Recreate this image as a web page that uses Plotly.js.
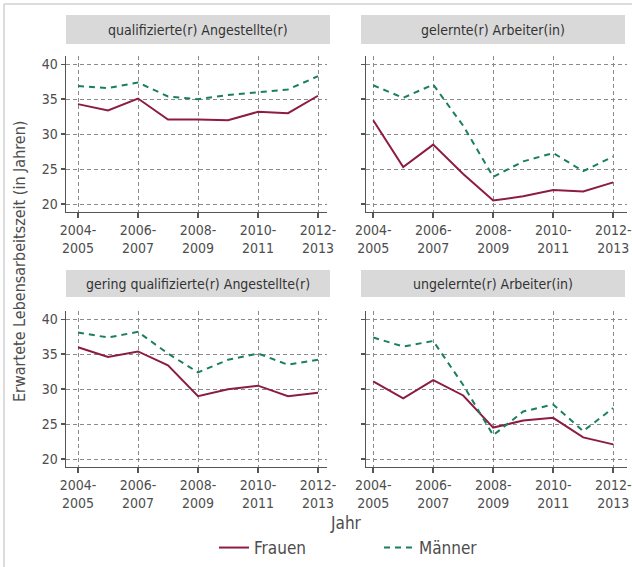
<!DOCTYPE html>
<html>
<head>
<meta charset="utf-8">
<script src="https://cdn.plot.ly/plotly-3.0.1.min.js"></script>
<style>html,body{margin:0;padding:0;background:#fff;}#chart{width:632px;height:567px;}</style>
</head>
<body>
<div id="chart"></div>
<script>
// ---- data ----
const years = ["2004-2005","2005-2006","2006-2007","2007-2008","2008-2009","2009-2010","2010-2011","2011-2012","2012-2013"];
const tickIdx = [0, 2, 4, 6, 8];
const tickLabels = ["2004-<br>2005","2006-<br>2007","2008-<br>2009","2010-<br>2011","2012-<br>2013"];
const yTicks = [20, 25, 30, 35, 40];
const panelTitles = ["qualifizierte(r) Angestellte(r)", "gelernte(r) Arbeiter(in)", "gering qualifizierte(r) Angestellte(r)", "ungelernte(r) Arbeiter(in)"];
const seriesNames = ["Frauen", "Männer"];

const qualAng_F = [34.3, 33.4, 35.1, 32.1, 32.1, 32.0, 33.2, 33.0, 35.5];
const qualAng_M = [36.9, 36.6, 37.4, 35.4, 35.0, 35.6, 36.0, 36.4, 38.3];
const gelArb_F  = [32.0, 25.3, 28.5, 24.3, 20.5, 21.1, 22.0, 21.8, 23.1];
const gelArb_M  = [37.0, 35.2, 37.1, 31.2, 23.9, 26.1, 27.3, 24.7, 26.8];
const gerAng_F  = [36.0, 34.6, 35.4, 33.4, 29.0, 30.0, 30.5, 29.0, 29.5];
const gerAng_M  = [38.1, 37.4, 38.2, 35.1, 32.4, 34.2, 35.1, 33.5, 34.2];
const ungArb_F  = [31.1, 28.7, 31.3, 29.1, 24.5, 25.5, 25.9, 23.1, 22.1];
const ungArb_M  = [37.4, 36.1, 36.9, 30.6, 23.4, 26.8, 27.8, 24.0, 27.3];

const panelData = [[qualAng_F, qualAng_M],[gelArb_F, gelArb_M],[gerAng_F, gerAng_M],[ungArb_F, ungArb_M]];

// ---- style ----
const W = 632, H = 567;
const FONT = "DejaVu Sans Condensed, Liberation Sans Narrow, Arial Narrow, sans-serif";
const colF = "#8c1d40", colM = "#1a7f60";
const txt = "#4d4d4d";
const px = v => v / W, py = v => 1 - v / H;

const colDom = [[px(66), px(327)], [px(366), px(627)]];
const colRange = [[-0.4, 8.3], [-0.24, 8.46]];
const rowDom = [[py(211.7), py(56)], [py(466.7), py(311)]];
const stripY = [[15, 44], [270, 297]];
const stripX = [[66, 330], [361, 625]];

const xs = years.map((_, i) => i);
const traces = [];
const layout = {
  width: W, height: H,
  margin: {l: 0, r: 0, t: 0, b: 0},
  paper_bgcolor: "#fff", plot_bgcolor: "#fff",
  font: {family: FONT, color: txt, size: 14},
  showlegend: true,
  legend: {orientation: "h", x: px(214), xanchor: "left", y: py(548), yanchor: "middle",
           font: {size: 17, color: txt}, entrywidth: 120, entrywidthmode: "pixels", bgcolor: "rgba(0,0,0,0)"},
  shapes: [], annotations: []
};

for (let p = 0; p < 4; p++) {
  const r = Math.floor(p / 2), c = p % 2;
  const n = p + 1;
  const xa = "x" + (n === 1 ? "" : n), ya = "y" + (n === 1 ? "" : n);
  const xKey = "xaxis" + (n === 1 ? "" : n), yKey = "yaxis" + (n === 1 ? "" : n);
  traces.push({x: xs, y: panelData[p][0], xaxis: xa, yaxis: ya, type: "scatter", mode: "lines",
    name: seriesNames[0], line: {color: colF, width: 2}, showlegend: p === 0, legendgroup: "F"});
  traces.push({x: xs, y: panelData[p][1], xaxis: xa, yaxis: ya, type: "scatter", mode: "lines",
    name: seriesNames[1], line: {color: colM, width: 2, dash: "6px,5px"}, showlegend: p === 0, legendgroup: "M"});
  layout[xKey] = {domain: colDom[c], range: colRange[c], anchor: ya, tickmode: "array", tickvals: tickIdx, ticktext: tickLabels,
    showgrid: true, gridcolor: "#8a8a8a", gridwidth: 1, griddash: "4px,3px", zeroline: false,
    showline: true, linecolor: "#555", linewidth: 1.5, ticks: "outside", ticklen: 5, tickcolor: "#555", tickwidth: 1.5,
    ticklabeloverflow: "allow", tickfont: {size: 14, color: txt}, fixedrange: true};
  layout[yKey] = {domain: rowDom[r], range: [18.9, 41.19], anchor: xa, tickmode: "array", tickvals: yTicks,
    showticklabels: c === 0, showgrid: true, gridcolor: "#8a8a8a", gridwidth: 1, griddash: "4px,3px", zeroline: false,
    showline: true, linecolor: "#555", linewidth: 1.5, ticks: "outside", ticklen: 4, tickcolor: "#555", tickwidth: 1.5,
    tickfont: {size: 14, color: txt}, fixedrange: true};
  // strip
  layout.shapes.push({type: "rect", xref: "paper", yref: "paper", x0: px(stripX[c][0]), x1: px(stripX[c][1]),
    y0: py(stripY[r][1]), y1: py(stripY[r][0]), fillcolor: "#d9d9d9", line: {width: 0}, layer: "below"});
  layout.annotations.push({xref: "paper", yref: "paper", x: px((stripX[c][0] + stripX[c][1]) / 2), y: py((stripY[r][0] + stripY[r][1]) / 2),
    text: panelTitles[p], showarrow: false, xanchor: "center", yanchor: "middle", font: {size: 14, color: "#333"}});
}

// outer frame
layout.shapes.push({type: "line", xref: "paper", yref: "paper", x0: px(4), x1: 1, y0: py(4), y1: py(4), line: {color: "#d0d0d0", width: 1.5}});
layout.shapes.push({type: "line", xref: "paper", yref: "paper", x0: px(4), x1: px(4), y0: 0, y1: py(4), line: {color: "#d0d0d0", width: 1.5}});

// axis titles
layout.annotations.push({xref: "paper", yref: "paper", x: px(19), y: py(262), text: "Erwartete Lebensarbeitszeit (in Jahren)",
  textangle: -90, showarrow: false, xanchor: "center", yanchor: "middle", font: {size: 16, color: txt}});
layout.annotations.push({xref: "paper", yref: "paper", x: px(346), y: py(523), text: "Jahr",
  showarrow: false, xanchor: "center", yanchor: "middle", font: {size: 17, color: txt}});

Plotly.newPlot("chart", traces, layout, {displayModeBar: false, staticPlot: true});
</script>
</body>
</html>
